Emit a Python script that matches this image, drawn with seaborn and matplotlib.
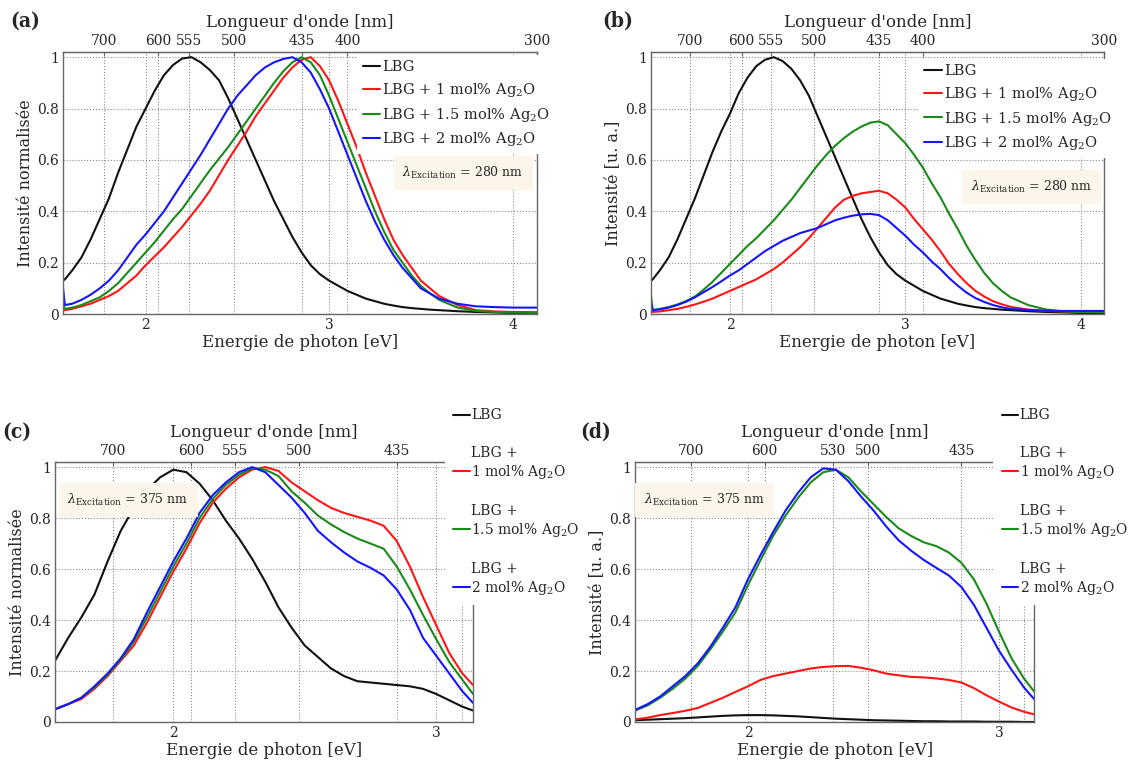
import numpy as np
import pandas as pd
import matplotlib
matplotlib.use("Agg")
import matplotlib.pyplot as plt
import seaborn as sns
from matplotlib.offsetbox import TextArea

sns.set_style("white")
plt.rcParams["font.family"] = ["DejaVu Serif"]
plt.rcParams["mathtext.fontset"] = "dejavuserif"

# ---- data ----
energy_ab = [1.55, 1.56, 1.60, 1.65, 1.70, 1.75, 1.80, 1.85, 1.90, 1.95, 2.00, 2.05,
             2.10, 2.15, 2.20, 2.25, 2.30, 2.35, 2.40, 2.45, 2.50, 2.55, 2.60, 2.65,
             2.70, 2.75, 2.80, 2.85, 2.90, 2.95, 3.00, 3.05, 3.10, 3.15, 3.20, 3.25,
             3.30, 3.35, 3.40, 3.45, 3.50, 3.55, 3.60, 3.70, 3.80, 3.90, 4.00, 4.13]

lbg_a = [0.13, 0.135, 0.17, 0.22, 0.29, 0.37, 0.45, 0.55, 0.64, 0.73, 0.80, 0.87,
         0.93, 0.97, 0.995, 1.0, 0.98, 0.95, 0.91, 0.84, 0.76, 0.68, 0.60, 0.52,
         0.44, 0.37, 0.30, 0.24, 0.19, 0.155, 0.13, 0.11, 0.09, 0.075, 0.06, 0.05,
         0.04, 0.033, 0.027, 0.023, 0.02, 0.017, 0.015, 0.011, 0.008, 0.006, 0.004, 0.003]
ag1_a = [0.03, 0.015, 0.02, 0.03, 0.04, 0.055, 0.07, 0.09, 0.12, 0.15, 0.19, 0.225,
         0.26, 0.30, 0.34, 0.385, 0.43, 0.48, 0.54, 0.60, 0.655, 0.71, 0.77, 0.82,
         0.87, 0.92, 0.96, 0.99, 1.0, 0.965, 0.91, 0.83, 0.74, 0.65, 0.55, 0.46,
         0.37, 0.29, 0.23, 0.18, 0.13, 0.10, 0.07, 0.035, 0.015, 0.01, 0.008, 0.007]
ag15_a = [0.04, 0.02, 0.025, 0.035, 0.05, 0.065, 0.09, 0.12, 0.16, 0.20, 0.24, 0.28,
          0.325, 0.37, 0.41, 0.46, 0.51, 0.56, 0.605, 0.65, 0.70, 0.75, 0.80, 0.85,
          0.90, 0.945, 0.98, 1.0, 0.98, 0.93, 0.85, 0.76, 0.67, 0.58, 0.49, 0.40,
          0.32, 0.25, 0.20, 0.15, 0.11, 0.08, 0.055, 0.025, 0.012, 0.008, 0.006, 0.005]
ag2_a = [0.10, 0.035, 0.04, 0.055, 0.075, 0.10, 0.13, 0.17, 0.22, 0.27, 0.31, 0.355,
         0.40, 0.455, 0.51, 0.565, 0.62, 0.68, 0.74, 0.80, 0.85, 0.89, 0.93, 0.96,
         0.98, 0.993, 1.0, 0.98, 0.94, 0.875, 0.80, 0.71, 0.62, 0.53, 0.44, 0.36,
         0.29, 0.23, 0.18, 0.14, 0.10, 0.08, 0.06, 0.04, 0.03, 0.027, 0.025, 0.025]

lbg_b = [0.13, 0.135, 0.17, 0.22, 0.29, 0.37, 0.45, 0.54, 0.63, 0.71, 0.78, 0.86,
         0.92, 0.965, 0.99, 1.0, 0.985, 0.955, 0.91, 0.85, 0.77, 0.69, 0.61, 0.53,
         0.45, 0.37, 0.30, 0.24, 0.19, 0.155, 0.13, 0.11, 0.09, 0.075, 0.06, 0.05,
         0.04, 0.033, 0.027, 0.023, 0.02, 0.017, 0.015, 0.011, 0.008, 0.006, 0.004, 0.003]
ag1_b = [0.015, 0.008, 0.01, 0.015, 0.02, 0.028, 0.037, 0.048, 0.06, 0.075, 0.09, 0.105,
         0.12, 0.135, 0.155, 0.175, 0.20, 0.23, 0.26, 0.295, 0.335, 0.375, 0.415, 0.445,
         0.46, 0.47, 0.475, 0.48, 0.47, 0.445, 0.415, 0.37, 0.33, 0.29, 0.245, 0.195,
         0.155, 0.12, 0.09, 0.068, 0.05, 0.038, 0.028, 0.017, 0.012, 0.01, 0.009, 0.008]
ag15_b = [0.07, 0.015, 0.02, 0.027, 0.037, 0.05, 0.068, 0.095, 0.125, 0.16, 0.195, 0.23,
          0.265, 0.295, 0.33, 0.365, 0.405, 0.445, 0.49, 0.535, 0.58, 0.62, 0.655, 0.685,
          0.71, 0.73, 0.745, 0.75, 0.735, 0.70, 0.665, 0.62, 0.57, 0.51, 0.455, 0.39,
          0.33, 0.265, 0.21, 0.16, 0.12, 0.09, 0.065, 0.035, 0.018, 0.01, 0.008, 0.007]
ag2_b = [0.04, 0.015, 0.018, 0.025, 0.035, 0.048, 0.065, 0.085, 0.105, 0.127, 0.15, 0.17,
         0.195, 0.22, 0.245, 0.265, 0.285, 0.30, 0.315, 0.325, 0.335, 0.35, 0.365, 0.375,
         0.383, 0.388, 0.39, 0.385, 0.365, 0.335, 0.305, 0.27, 0.24, 0.205, 0.175, 0.14,
         0.11, 0.083, 0.062, 0.047, 0.035, 0.026, 0.02, 0.016, 0.013, 0.012, 0.012, 0.012]

energy_cd = [1.55, 1.60, 1.65, 1.70, 1.75, 1.80, 1.85, 1.90, 1.95, 2.00, 2.05, 2.10,
             2.15, 2.20, 2.25, 2.30, 2.35, 2.40, 2.45, 2.50, 2.55, 2.60, 2.65, 2.70,
             2.75, 2.80, 2.85, 2.90, 2.95, 3.00, 3.05, 3.10, 3.14]

lbg_c = [0.24, 0.33, 0.41, 0.50, 0.63, 0.75, 0.84, 0.91, 0.96, 0.99, 0.98, 0.935,
         0.87, 0.79, 0.72, 0.64, 0.55, 0.45, 0.37, 0.30, 0.255, 0.21, 0.18, 0.16,
         0.155, 0.15, 0.145, 0.14, 0.13, 0.11, 0.085, 0.06, 0.045]
ag1_c = [0.05, 0.07, 0.09, 0.13, 0.18, 0.24, 0.30, 0.39, 0.49, 0.59, 0.68, 0.78,
         0.86, 0.915, 0.96, 0.99, 1.0, 0.985, 0.94, 0.905, 0.87, 0.84, 0.82, 0.805,
         0.79, 0.77, 0.71, 0.61, 0.49, 0.38, 0.27, 0.19, 0.145]
ag15_c = [0.05, 0.07, 0.095, 0.135, 0.185, 0.245, 0.315, 0.41, 0.51, 0.61, 0.70, 0.80,
          0.875, 0.93, 0.97, 0.995, 0.99, 0.965, 0.905, 0.86, 0.81, 0.775, 0.745, 0.72,
          0.70, 0.68, 0.61, 0.52, 0.42, 0.325, 0.235, 0.165, 0.11]
ag2_c = [0.05, 0.07, 0.095, 0.14, 0.19, 0.25, 0.325, 0.43, 0.53, 0.63, 0.72, 0.82,
         0.89, 0.94, 0.98, 1.0, 0.98, 0.93, 0.88, 0.82, 0.75, 0.705, 0.665, 0.63,
         0.605, 0.575, 0.52, 0.44, 0.33, 0.26, 0.19, 0.12, 0.075]

lbg_d = [0.007, 0.009, 0.011, 0.013, 0.015, 0.018, 0.021, 0.024, 0.026, 0.027, 0.027, 0.026,
         0.024, 0.022, 0.019, 0.016, 0.013, 0.011, 0.009, 0.007, 0.006, 0.005, 0.004, 0.003,
         0.003, 0.002, 0.002, 0.002, 0.001, 0.001, 0.001, 0.0, 0.0]
ag1_d = [0.01, 0.017, 0.027, 0.035, 0.044, 0.055, 0.075, 0.095, 0.118, 0.14, 0.165, 0.18,
         0.19, 0.20, 0.21, 0.216, 0.219, 0.22, 0.213, 0.203, 0.19, 0.183, 0.177, 0.175,
         0.171, 0.165, 0.155, 0.133, 0.105, 0.08, 0.057, 0.04, 0.03]
ag15_d = [0.045, 0.065, 0.095, 0.13, 0.17, 0.22, 0.285, 0.355, 0.43, 0.537, 0.635, 0.73,
          0.81, 0.88, 0.94, 0.98, 0.99, 0.96, 0.905, 0.855, 0.805, 0.76, 0.73, 0.705,
          0.69, 0.665, 0.625, 0.56, 0.465, 0.355, 0.25, 0.17, 0.12]
ag2_d = [0.047, 0.07, 0.10, 0.14, 0.18, 0.23, 0.295, 0.37, 0.45, 0.56, 0.655, 0.745,
         0.83, 0.90, 0.96, 0.995, 0.99, 0.945, 0.885, 0.83, 0.768, 0.713, 0.672, 0.636,
         0.605, 0.575, 0.53, 0.46, 0.37, 0.28, 0.205, 0.135, 0.09]

nm_ab = [700, 600, 555, 500, 435, 400, 300]
nm_c = [700, 600, 555, 500, 435]
nm_d = [700, 600, 530, 500, 435]
nm_grid_only = [400]

labels_long = ["LBG", "LBG + 1 mol% Ag$_2$O", "LBG + 1.5 mol% Ag$_2$O", "LBG + 2 mol% Ag$_2$O"]
labels_wrap = ["LBG", "LBG +\n1 mol% Ag$_2$O", "LBG +\n1.5 mol% Ag$_2$O", "LBG +\n2 mol% Ag$_2$O"]
colors = ["#111111", "#ff1515", "#1a8a1a", "#1515ff"]


def e2nm(e):
    e = np.asarray(e, dtype=float)
    with np.errstate(divide="ignore"):
        return 1240.0 / e


def panel(ax, energy, series, labels, xmax, nm_ticks, nm_extra, ylabel):
    df = pd.DataFrame({"E": energy})
    for lab, col, vals in zip(labels, colors, series):
        df["y"] = vals
        sns.lineplot(data=df, x="E", y="y", color=col, lw=1.5, label=lab, ax=ax)
    ax.set_xlim(1.55, xmax)
    ax.set_ylim(0, 1.02)
    ax.set_xticks([2, 3, 4] if xmax > 4 else [2, 3])
    ax.set_yticks([0, 0.2, 0.4, 0.6, 0.8, 1.0])
    ax.set_yticklabels(["0", "0.2", "0.4", "0.6", "0.8", "1"])
    ax.set_xticks(e2nm(nm_ticks + nm_extra), minor=True)
    ax.grid(True, which="both", ls=":", color="#888888", lw=0.8)
    ax.tick_params(which="minor", length=0)
    ax.tick_params(which="major", direction="in", length=3, labelsize=10, pad=3,
                   color="#555555")
    for s in ax.spines.values():
        s.set_color("#666666")
        s.set_linewidth(1.0)
    ax.set_xlabel("Energie de photon [eV]", fontsize=12, labelpad=1)
    ax.set_ylabel(ylabel, fontsize=11.5, labelpad=2)

    sec = ax.secondary_xaxis("top", functions=(e2nm, e2nm))
    sec.set_xticks(nm_ticks)
    sec.set_xticklabels([str(v) for v in nm_ticks])
    sec.tick_params(direction="in", length=3, labelsize=10, pad=3, color="#555555")
    sec.spines["top"].set_color("#666666")
    sec.set_xlabel("Longueur d'onde [nm]", fontsize=12, labelpad=5)
    return ax


def excitation(ax, x, y, txt):
    ax.text(x, y, r"$\lambda_{\mathrm{Excitation}}$ = " + txt, transform=ax.transAxes,
            ha="center", va="center", fontsize=9, zorder=6,
            bbox=dict(boxstyle="square,pad=0.7", fc="#fbf5ea", ec="none"))


fig = plt.figure(figsize=(11.34, 7.62), dpi=100)
ax_a = fig.add_axes([0.0556, 0.5879, 0.418, 0.3438])
ax_b = fig.add_axes([0.5741, 0.5879, 0.3995, 0.3438])
ax_c = fig.add_axes([0.0485, 0.0525, 0.3686, 0.3412])
ax_d = fig.add_axes([0.560, 0.0525, 0.3519, 0.3412])

panel(ax_a, energy_ab, [lbg_a, ag1_a, ag15_a, ag2_a], labels_long, 4.133, nm_ab, [],
      "Intensité normalisée")
panel(ax_b, energy_ab, [lbg_b, ag1_b, ag15_b, ag2_b], labels_long, 4.133, nm_ab, [],
      "Intensité [u. a.]")
panel(ax_c, energy_cd, [lbg_c, ag1_c, ag15_c, ag2_c], labels_wrap, 3.14, nm_c, nm_grid_only,
      "Intensité normalisée")
panel(ax_d, energy_cd, [lbg_d, ag1_d, ag15_d, ag2_d], labels_wrap, 3.14, nm_d, nm_grid_only,
      "Intensité [u. a.]")

leg_kw = dict(frameon=True, facecolor="white", edgecolor="none", framealpha=1,
              fancybox=False, handlelength=1.2, borderaxespad=0)
ax_a.legend(loc="upper right", bbox_to_anchor=(1.04, 0.99), labelspacing=0.45,
            handletextpad=0.15, fontsize=10.5, **leg_kw)
ax_b.legend(loc="upper right", bbox_to_anchor=(1.03, 0.975), labelspacing=0.45,
            handletextpad=0.15, fontsize=10.5, **leg_kw)

for ax, x0 in [(ax_c, 0.392), (ax_d, 0.876)]:
    leg = ax.legend(loc="upper left", bbox_to_anchor=(x0, 0.475),
                    bbox_transform=fig.transFigure, labelspacing=1.7, borderpad=0.6,
                    handletextpad=0.1, fontsize=10, **leg_kw)
    # put the handle on the last line of two-line labels
    for col in leg._legend_handle_box.get_children():
        for row in col.get_children():
            for child in row.get_children():
                if isinstance(child, TextArea):
                    child._multilinebaseline = False

excitation(ax_a, 0.844, 0.538, "280 nm")
excitation(ax_b, 0.84, 0.485, "280 nm")
excitation(ax_c, 0.175, 0.854, "375 nm")
excitation(ax_d, 0.175, 0.854, "375 nm")

lab_kw = dict(fontsize=15, fontweight="bold", fontstretch="condensed",
              ha="center", va="center")
fig.text(25 / 1134, 1 - 21 / 762, "(a)", **lab_kw)
fig.text(618 / 1134, 1 - 21 / 762, "(b)", **lab_kw)
fig.text(17 / 1134, 1 - 432 / 762, "(c)", **lab_kw)
fig.text(596 / 1134, 1 - 432 / 762, "(d)", **lab_kw)

fig.savefig("out.png", dpi=100)
